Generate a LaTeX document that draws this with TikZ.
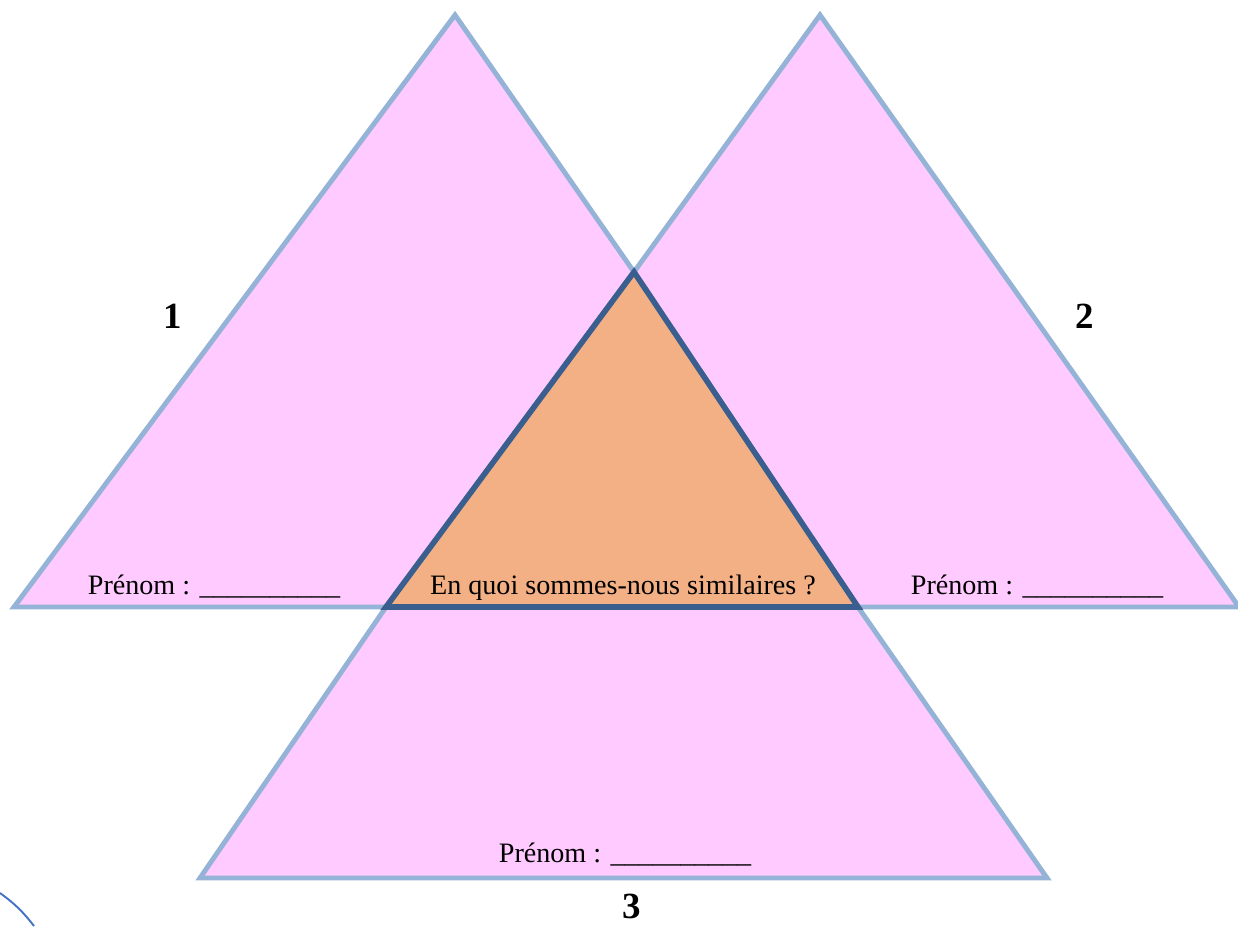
\documentclass[tikz,border=0pt]{standalone}
\usepackage{fontspec}
\setmainfont{Liberation Serif}
\usepackage{xcolor}
\usetikzlibrary{positioning,calc}
\definecolor{petal}{HTML}{FFCAFF}
\definecolor{petaledge}{HTML}{95B3D7}
\definecolor{core}{HTML}{F3B085}
\definecolor{coreedge}{HTML}{3A5F8F}
\definecolor{stray}{HTML}{4472C4}
\tikzset{
  petalshape/.style={draw=petaledge, fill=petal, line width=2.8pt, line join=miter},
  coreshape/.style={draw=coreedge, fill=core, line width=3.2pt, line join=miter},
  namefield/.style={anchor=base, inner sep=0pt, font=\fontsize{16}{19}\selectfont},
  question/.style={anchor=base, inner sep=0pt, font=\fontsize{16}{19}\selectfont},
  number/.style={anchor=base, inner sep=0pt, font=\fontsize{21}{25}\selectfont\bfseries}
}

\begin{document}
\begin{tikzpicture}[x=1cm,y=1cm]
        \useasboundingbox (0,0) rectangle (24.76,18.52);
        \coordinate (cl) at (7.72,6.38);
        \coordinate (ct) at (12.68,13.08);
        \coordinate (cr) at (17.16,6.38);
        \coordinate (t1l) at (0.28,6.38);
        \coordinate (t1a) at (9.10,18.22);
        \coordinate (t2a) at (16.40,18.22);
        \coordinate (t2r) at (24.78,6.38);
        \coordinate (t3l) at (4.00,0.96);
        \coordinate (t3r) at (20.94,0.96);
        \draw[petalshape] (t1l) -- (t1a) -- (ct) -- (cr) -- cycle;
        \draw[petalshape] (cl) -- (ct) -- (t2a) -- (t2r) -- cycle;
        \draw[petalshape] (t3l) -- (cl) -- (ct) -- (cr) -- (t3r) -- cycle;
        \draw[coreshape] (cl) -- (ct) -- (cr) -- cycle;
        \node[namefield] (name1) at (4.28,6.64) {Prénom : \_\_\_\_\_\_\_\_\_\_};
        \node[namefield] (name2) at (20.74,6.64) {Prénom : \_\_\_\_\_\_\_\_\_\_};
        \node[namefield] (name3) at (12.50,1.28) {Prénom : \_\_\_\_\_\_\_\_\_\_};
        \node[question] (ask) at (12.46,6.64) {En quoi sommes-nous similaires ?};
        \node[number] (n1) at (3.46,11.94) {1};
        \node[number] (n2) at (21.70,11.94) {2};
        \node[number] (n3) at (12.64,0.16) {3};
        \coordinate (arcs) at (0,0.66);
        \coordinate (arce) at (0.68,0);
        \draw[stray, line width=1.1pt] (arcs) to[bend left=8] (arce);
      \end{tikzpicture}
\end{document}
